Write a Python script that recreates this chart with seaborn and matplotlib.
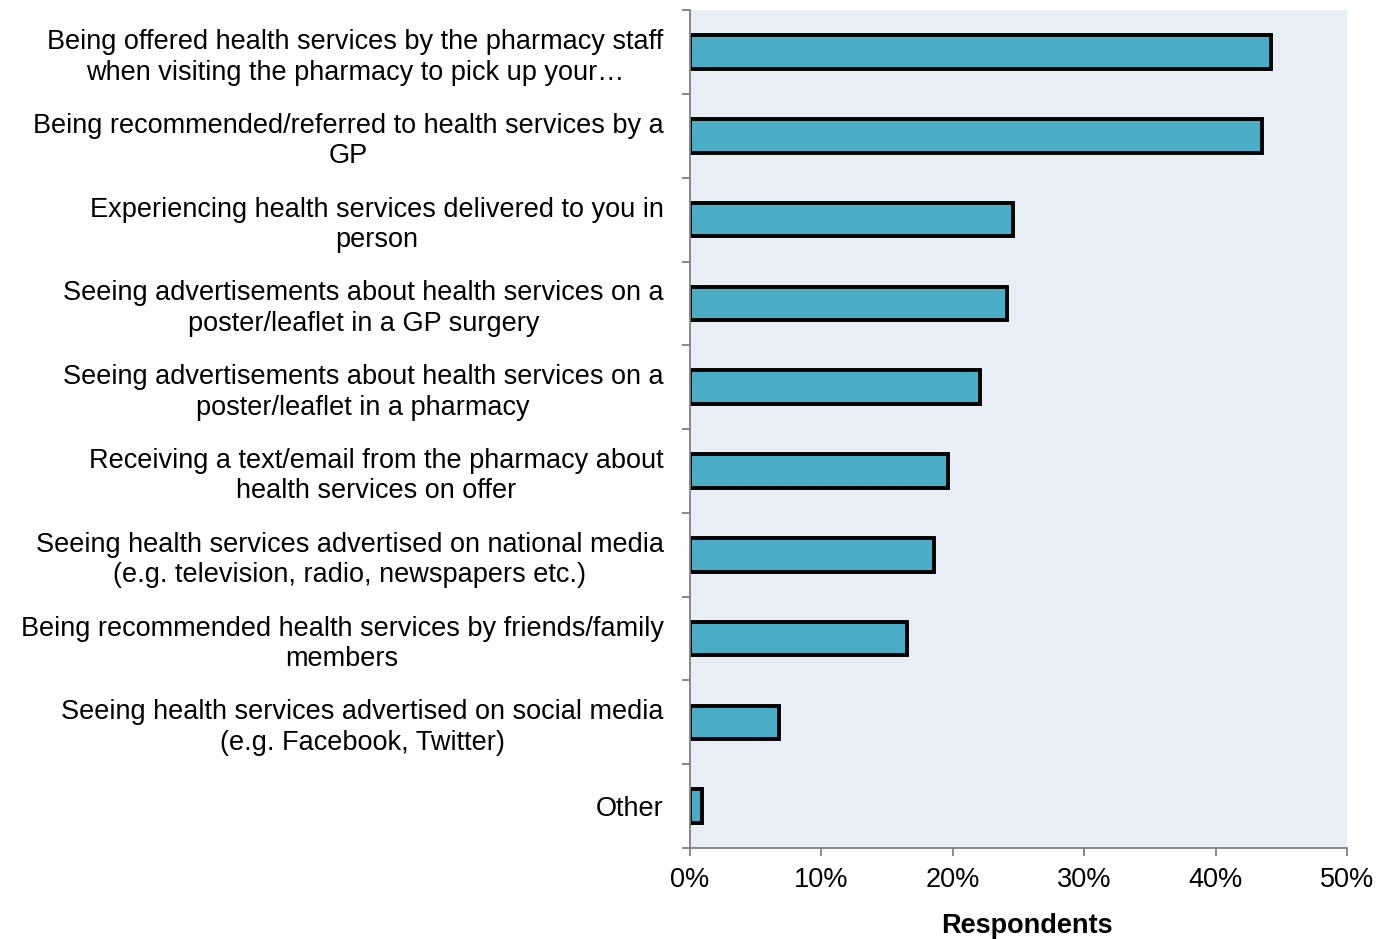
import matplotlib
matplotlib.use("Agg")
import matplotlib.pyplot as plt
import seaborn as sns
import pandas as pd
from matplotlib.ticker import FuncFormatter, FixedLocator

categories = [
    "Being offered health services by the pharmacy staff\nwhen visiting the pharmacy to pick up your\u2026",
    "Being recommended/referred to health services by a\nGP",
    "Experiencing health services delivered to you in\nperson",
    "Seeing advertisements about health services on a\nposter/leaflet in a GP surgery",
    "Seeing advertisements about health services on a\nposter/leaflet in a pharmacy",
    "Receiving a text/email from the pharmacy about\nhealth services on offer",
    "Seeing health services advertised on national media\n(e.g. television, radio, newspapers etc.)",
    "Being recommended health services by friends/family\nmembers",
    "Seeing health services advertised on social media\n(e.g. Facebook, Twitter)",
    "Other",
]
values = [44.2, 43.5, 24.6, 24.1, 22.1, 19.6, 18.6, 16.5, 6.8, 0.9]
x_ticks = [0, 10, 20, 30, 40, 50]

df = pd.DataFrame({"category": categories, "value": values})

sns.set_theme(style="white")
plt.rcParams['font.family'] = ['Liberation Sans', 'DejaVu Sans']

FS = 19.5

fig = plt.figure(figsize=(13.9, 9.39), dpi=100)
ax = fig.add_axes([0.4964, 0.097, 0.4726, 0.892])
ax.set_facecolor("#E8EEF6")

sns.barplot(data=df, x="value", y="category", orient="h", color="#4BACC6",
            saturation=1, width=0.4, edgecolor="black", linewidth=2.8, ax=ax)

ax.set_xlim(0, 50)
ax.set_ylim(len(categories) - 0.5, -0.5)
ax.xaxis.set_major_locator(FixedLocator(x_ticks))
ax.xaxis.set_major_formatter(FuncFormatter(lambda v, p: f"{v:.0f}%"))

for s in ["top", "right"]:
    ax.spines[s].set_visible(False)
for s in ["left", "bottom"]:
    ax.spines[s].set_color("#808080")
    ax.spines[s].set_linewidth(1.3)

# y ticks at category boundaries
ax.set_yticks([i - 0.5 for i in range(len(categories) + 1)], minor=True)
ax.tick_params(axis="y", which="major", length=0, pad=19, labelsize=FS, labelcolor="black")
ax.tick_params(axis="y", which="minor", length=6, width=1.3, color="#808080", left=True)
ax.tick_params(axis="x", which="major", length=6, width=1.3, color="#808080", bottom=True,
               labelsize=FS, labelcolor="black", pad=8)
for lab in ax.get_yticklabels():
    lab.set_multialignment("center")
    lab.set_linespacing(1.22)

ax.set_ylabel("")
ax.set_xlabel("Respondents", fontsize=FS, fontweight="bold", color="black")
ax.xaxis.set_label_coords(0.513, -0.078)

fig.savefig("out.png", dpi=100)
